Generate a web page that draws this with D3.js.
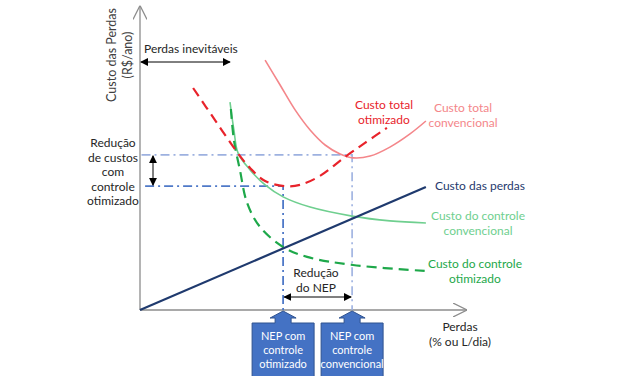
<!DOCTYPE html>
<html>
<head>
<meta charset="utf-8">
<script src="https://cdn.jsdelivr.net/npm/d3@7"></script>
<style>
  body { margin: 0; background: #fff; }
  svg { font-family: Lato, "Open Sans", sans-serif; }
  .lbl { font-size: 12px; fill: #262626; }
</style>
</head>
<body>
<svg id="chart" width="627" height="376"></svg>
<script>
// curves (x = perdas, y = custo), conceptual units
const custoPerdas = [[0, 0], [95.3, 41]]
const totalConvencional = [[41.7, 83.3], [46.7, 75], [51.7, 66.7], [56.7, 60], [61.7, 55], [66.7, 52],
    [71, 50.7], [76.7, 51.3], [83.3, 54.3], [90, 58.7], [95.3, 63]]
const totalOtimizado = [[17.7, 74], [25, 63.3], [32.3, 52.7], [36.7, 47.3], [41.7, 43], [48.3, 41.3],
    [53.3, 41.7], [60, 44.7], [68.3, 51], [75, 55.7], [82.3, 60.7]]
const controleConvencional = [[30, 69.3], [31.3, 60], [32.7, 52.3], [36.7, 46.7], [41.7, 41.7],
    [47.7, 37.7], [56.7, 34.3], [70.7, 31.3], [83.3, 29.7], [95.3, 29]]
const controleOtimizado = [[30.3, 67], [31.3, 56.7], [33.3, 46.7], [35.7, 35.7], [40, 27.7],
    [47.7, 21], [55.7, 17.7], [71, 15], [95.3, 13]]

// NEP points
const nepOtimizado = 47.7
const nepConvencional = 70.7
const custoMinOtimizado = 41.3
const custoMinConvencional = 51.7
const perdasInevitaveis = 30

const svg = d3.select('#chart')

const x = d3.scaleLinear().domain([0, 100]).range([140, 440])
const y = d3.scaleLinear().domain([0, 100]).range([310, 10])

const defs = svg.append('defs')
defs.append('marker')
    .attr('id', 'tri')
    .attr('viewBox', '0 0 10 10')
    .attr('refX', 9).attr('refY', 5)
    .attr('markerWidth', 8).attr('markerHeight', 8)
    .attr('markerUnits', 'userSpaceOnUse')
    .attr('orient', 'auto-start-reverse')
    .append('path').attr('d', 'M0,0L10,5L0,10z').attr('fill', '#000')
defs.append('marker')
    .attr('id', 'open')
    .attr('viewBox', '0 0 10 10')
    .attr('refX', 10).attr('refY', 5)
    .attr('markerWidth', 14).attr('markerHeight', 14)
    .attr('markerUnits', 'userSpaceOnUse')
    .attr('orient', 'auto')
    .append('path').attr('d', 'M0,0L10,5L0,10').attr('fill', 'none').attr('stroke', '#8c8c8c').attr('stroke-width', 0.9)

// axes
svg.append('line')
    .attr('x1', x(0)).attr('y1', y(0)).attr('x2', x(109)).attr('y2', y(0))
    .attr('stroke', '#8c8c8c').attr('stroke-width', 1.3).attr('marker-end', 'url(#open)')
svg.append('line')
    .attr('x1', x(0)).attr('y1', y(0)).attr('x2', x(0)).attr('y2', y(101.5))
    .attr('stroke', '#8c8c8c').attr('stroke-width', 1.3).attr('marker-end', 'url(#open)')

const line = d3.line()
    .x(d => x(d[0]))
    .y(d => y(d[1]))
    .curve(d3.curveCatmullRom.alpha(0.5))

// reference dash-dot lines
const dashDot = '9,4,2,4'
svg.append('path')
    .attr('d', d3.line()([[x(0.5), y(custoMinConvencional)], [x(nepConvencional), y(custoMinConvencional)], [x(nepConvencional), y(0)]]))
    .attr('fill', 'none').attr('stroke', '#9db1e0').attr('stroke-width', 1.6).attr('stroke-dasharray', dashDot)
svg.append('path')
    .attr('d', d3.line()([[x(1.7), y(custoMinOtimizado)], [x(nepOtimizado), y(custoMinOtimizado)], [x(nepOtimizado), y(0)]]))
    .attr('fill', 'none').attr('stroke', '#4f79c8').attr('stroke-width', 1.8).attr('stroke-dasharray', dashDot)

const series = [
    {data: controleConvencional, color: '#6fcf8f', width: 1.6, dash: null},
    {data: totalConvencional, color: '#f4868a', width: 1.6, dash: null},
    {data: controleOtimizado, color: '#1ea84a', width: 2.2, dash: '10,6'},
    {data: totalOtimizado, color: '#e8232b', width: 2.2, dash: '10,6'},
    {data: custoPerdas, color: '#1f3a6e', width: 2.2, dash: null},
]
series.forEach(s => {
    svg.append('path')
        .datum(s.data)
        .attr('d', line)
        .attr('fill', 'none')
        .attr('stroke', s.color)
        .attr('stroke-width', s.width)
        .attr('stroke-dasharray', s.dash)
})

// double arrows
function dblArrow(x1, y1, x2, y2) {
    svg.append('line')
        .attr('x1', x1).attr('y1', y1).attr('x2', x2).attr('y2', y2)
        .attr('stroke', '#000').attr('stroke-width', 1)
        .attr('marker-start', 'url(#tri)').attr('marker-end', 'url(#tri)')
}
dblArrow(x(0.3), 62, x(perdasInevitaveis), 62)
dblArrow(153, y(custoMinConvencional) + 1, 153, y(custoMinOtimizado) - 1)
dblArrow(x(nepOtimizado) + 1, 297, x(nepConvencional) - 1, 297)

// text labels
function multi(lines, cx, cy, color, anchor, size, gap) {
    const t = svg.append('text')
        .attr('class', 'lbl')
        .attr('text-anchor', anchor || 'middle')
        .style('fill', color || '#262626')
    if (size) t.style('font-size', size + 'px')
    lines.forEach((l, i) => {
        t.append('tspan').attr('x', cx).attr('y', cy + i * (gap || 14.5)).text(l)
    })
    return t
}

multi(['Perdas inevitáveis'], 144, 53, '#262626', 'start')
multi(['Redução', 'de custos', 'com', 'controle', 'otimizado'], 113, 147, '#262626')
multi(['Redução', 'do NEP'], 316, 277, '#262626')
multi(['Custo total', 'otimizado'], 384, 109, '#e8232b')
multi(['Custo total', 'convencional'], 463, 112, '#f4868a')
multi(['Custo das perdas'], 435, 190, '#1f3a6e', 'start')
multi(['Custo do controle', 'convencional'], 478, 220, '#6fcf8f')
multi(['Custo do controle', 'otimizado'], 475, 268, '#1ea84a')
multi(['Perdas', '(% ou L/dia)'], 460, 331, '#262626')

svg.append('text').attr('class', 'lbl')
    .attr('transform', 'translate(116,55) rotate(-90)')
    .attr('text-anchor', 'middle')
    .style('fill', '#404040')
    .style('font-size', '12.5px')
    .text('Custo das Perdas')
svg.append('text').attr('class', 'lbl')
    .attr('transform', 'translate(132,55) rotate(-90)')
    .attr('text-anchor', 'middle')
    .style('fill', '#404040')
    .style('font-size', '12.5px')
    .text('(R$/ano)')

// NEP callout boxes
const boxes = [
    {nep: nepOtimizado, lines: ['NEP com', 'controle', 'otimizado']},
    {nep: nepConvencional, lines: ['NEP com', 'controle', 'convencional']},
]
boxes.forEach(b => {
    const cx = x(b.nep)
    const top = 323
    const p = d3.path()
    p.moveTo(cx - 31, top)
    p.lineTo(cx - 8, top)
    p.lineTo(cx - 8, 318)
    p.lineTo(cx - 13, 318)
    p.lineTo(cx, y(0) + 1)
    p.lineTo(cx + 13, 318)
    p.lineTo(cx + 8, 318)
    p.lineTo(cx + 8, top)
    p.lineTo(cx + 31, top)
    p.lineTo(cx + 31, 380)
    p.lineTo(cx - 31, 380)
    p.closePath()
    svg.append('path').attr('d', p.toString())
        .attr('fill', '#4472c4').attr('stroke', '#2f528f').attr('stroke-width', 1)
    multi(b.lines, cx, 340, '#ffffff', 'middle', 11, 14)
})
</script>
</body>
</html>
